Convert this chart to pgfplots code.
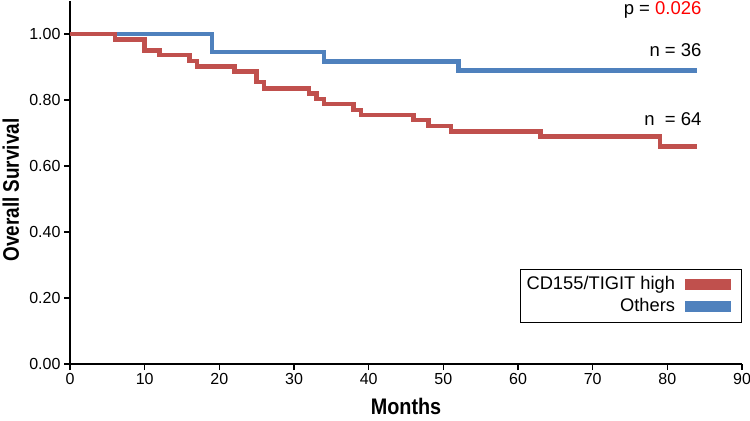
\documentclass[border=0pt]{standalone}
\usepackage{fontspec}
\setmainfont{Liberation Sans}
\usepackage{graphicx}
\usepackage{pgfplots}
\pgfplotsset{compat=1.18}
\definecolor{myred}{HTML}{C0504D}
\definecolor{myblue}{HTML}{4F81BD}
\begin{document}
\begin{tikzpicture}
\begin{axis}[
  scale only axis,
  width=672pt, height=363pt,
  xmin=0, xmax=90, ymin=0, ymax=1.10,
  axis lines=left,
  axis line style={-, line width=1.2pt, black},
  xtick={0,10,...,90},
  ytick={0,0.2,0.4,0.6,0.8,1.0},
  yticklabel style={/pgf/number format/.cd, fixed, fixed zerofill, precision=2},
  /pgf/number format/assume math mode=true,
  tick label style={font=\fontsize{16}{18}\selectfont},
  tick align=outside,
  major tick length=6pt,
  tick style={line width=1.2pt, black},
  xlabel={\scalebox{0.88}[1]{\bfseries Months}},
  ylabel={\scalebox{0.84}[1]{\bfseries Overall Survival}},
  xlabel style={font=\fontsize{22.5}{26}\selectfont, at={(axis description cs:0.5,-0.140)}, anchor=base},
  ylabel style={font=\fontsize{22.5}{26}\selectfont, at={(axis description cs:-0.0759,0.479)}, anchor=base, rotate=0},
  legend style={at={(axis description cs:1,0.113)}, anchor=south east,
    draw=black, line width=1.3pt, font=\fontsize{18.3}{20}\selectfont,
    inner xsep=6pt, inner ysep=7pt, row sep=5pt, column sep=0pt,
    nodes={inner xsep=0pt, inner ysep=0pt, text height=13pt, text depth=4pt}},
  legend cell align=right,
  legend plot pos=right,
  legend image code/.code={\fill[#1, draw=none] (9pt,-5.5pt) rectangle (55pt,5.5pt); \path (0pt,0pt) (59pt,0pt);},
  clip=false,
]
\addlegendimage{myred}
\addlegendentry{CD155/TIGIT high}
\addlegendimage{myblue}
\addlegendentry{Others}
\addplot[myblue, line width=4.5pt, const plot, forget plot] coordinates {
(0,1.0) (19,0.945) (34,0.916) (52,0.889) (84,0.889)};
\addplot[myred, line width=4.5pt, const plot, forget plot] coordinates {
(0,1.0) (6,0.983) (10,0.950) (12,0.936) (16,0.918) (17,0.901) (22,0.886)
(25,0.854) (26,0.835) (32,0.820) (33,0.803) (34,0.788) (38,0.770) (39,0.755)
(46,0.739) (48,0.721) (51,0.704) (63,0.689) (79,0.659) (84,0.659)};
\node[anchor=base east, font=\fontsize{18.5}{20}\selectfont, inner sep=0pt] at (axis cs:84.6,1.058) {p = \textcolor{red}{0.026}};
\node[anchor=base east, font=\fontsize{18.5}{20}\selectfont, inner sep=0pt] at (axis cs:84.6,0.933) {n = 36};
\node[anchor=base east, font=\fontsize{18.5}{20}\selectfont, inner sep=0pt] at (axis cs:84.6,0.724) {n \ = 64};
\path (axis description cs:-0.10417,-0.15427) coordinate (BL);
\path (axis description cs:1.01190,1.00275) coordinate (TR);
\end{axis}
\pgfresetboundingbox
\useasboundingbox (BL) rectangle (TR);
\end{tikzpicture}
\end{document}
